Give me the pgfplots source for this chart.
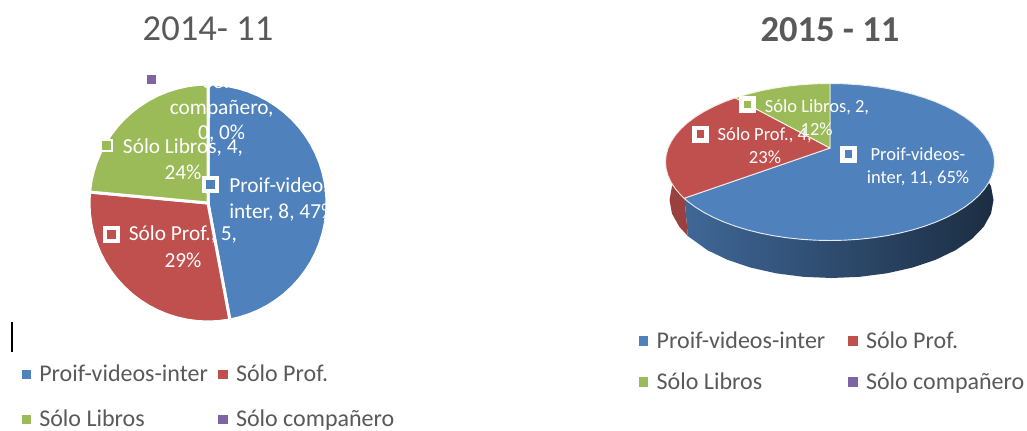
\documentclass[border=0pt]{standalone}
\usepackage{pgfplots}
\pgfplotsset{compat=1.18}
\usepackage{pgfplotstable}
\usepackage{fontspec}
\setmainfont{Carlito}
\definecolor{cb}{HTML}{4F81BD}
\definecolor{cr}{HTML}{C0504D}
\definecolor{cg}{HTML}{9BBB59}
\definecolor{cp}{HTML}{8064A2}
\definecolor{tx}{HTML}{595959}
% wedges: a = angle clockwise from top, r = 0 apex / 1 rim
% 2014-11: values 8, 5, 4, 0 (47%, 29%, 24%, 0%)
\pgfplotstableread{
a r
0 0
0 1
5 1
10 1
15 1
20 1
25 1
30 1
35 1
40 1
45 1
50 1
55 1
60 1
65 1
70 1
75 1
80 1
85 1
90 1
95 1
100 1
105 1
110 1
115 1
120 1
125 1
130 1
135 1
140 1
145 1
150 1
155 1
160 1
165 1
169.4 1
}\LA
\pgfplotstableread{
a r
169.4 0
169.4 1
175 1
180 1
185 1
190 1
195 1
200 1
205 1
210 1
215 1
220 1
225 1
230 1
235 1
240 1
245 1
250 1
255 1
260 1
265 1
270 1
275.3 1
}\LB
\pgfplotstableread{
a r
275.3 0
275.3 1
280 1
285 1
290 1
295 1
300 1
305 1
310 1
315 1
320 1
325 1
330 1
335 1
340 1
345 1
350 1
355 1
360 1
}\LC
% 2015-11: values 11, 4, 2, 0 (65%, 23%, 12%, 0%)
\pgfplotstableread{
a r
0 0
0 1
5 1
10 1
15 1
20 1
25 1
30 1
35 1
40 1
45 1
50 1
55 1
60 1
65 1
70 1
75 1
80 1
85 1
90 1
95 1
100 1
105 1
110 1
115 1
120 1
125 1
130 1
135 1
140 1
145 1
150 1
155 1
160 1
165 1
170 1
175 1
180 1
185 1
190 1
195 1
200 1
205 1
210 1
215 1
220 1
225 1
230 1
235 1
240 1
242.5 1
}\RA
\pgfplotstableread{
a r
242.5 0
242.5 1
245 1
250 1
255 1
260 1
265 1
270 1
275 1
280 1
285 1
290 1
295 1
300 1
305 1
310 1
315 1
320 1
324.8 1
}\RB
\pgfplotstableread{
a r
324.8 0
324.8 1
330 1
335 1
340 1
345 1
350 1
355 1
360 1
}\RC
% side walls: d = 0 top rim, 1 bottom rim
\pgfplotstableread{
a d
70 0
80 0
90 0
100 0
110 0
120 0
130 0
140 0
150 0
160 0
170 0
180 0
190 0
200 0
210 0
220 0
230 0
242.5 0
242.5 1
230 1
220 1
210 1
200 1
190 1
180 1
170 1
160 1
150 1
140 1
130 1
120 1
110 1
100 1
90 1
80 1
70 1
}\RSA
\pgfplotstableread{
a d
242.5 0
250 0
260 0
270 0
280 0
290 0
290 1
280 1
270 1
260 1
250 1
242.5 1
}\RSB
\newcommand{\LP}[2]{\addplot[fill=#1,draw=white,line width=2.25pt,line join=round] table[x expr={208+119*\thisrow{r}*sin(\thisrow{a})},y expr={203-119*\thisrow{r}*cos(\thisrow{a})}] {#2} -- cycle;}
\newcommand{\RP}[2]{\addplot[fill=#1,draw=white!85!#1,line width=0.7pt,line join=round] table[x expr={830+164.5*\thisrow{r}*sin(\thisrow{a})},y expr={148+\thisrow{r}*(14-78.5*cos(\thisrow{a}))}] {#2} -- cycle;}
\newcommand{\mk}[5]{% color, outer half, inner half, x, y
\addplot[only marks,mark=square*,mark size=#2pt,mark options={fill=white,draw=white,line width=0pt,rounded corners=1pt}] coordinates {(#4,#5)};
\addplot[only marks,mark=square*,mark size=#3pt,mark options={fill=#1,draw=#1,line width=0pt}] coordinates {(#4,#5)};}
\newcommand{\lgk}[3]{\addplot[only marks,mark=square*,mark size=3.2pt,mark options={fill=#1,draw=#1,line width=0pt}] coordinates {(#2,#3)};}
\begin{document}
\begin{tikzpicture}
\path[use as bounding box] (0,0) rectangle (770.25pt,322.5pt);
\begin{axis}[
  at={(0,0)},anchor=south west,
  width=770.25pt,height=322.5pt,scale only axis,
  xmin=0,xmax=1027,ymin=0,ymax=430,y dir=reverse,
  axis lines=none,clip=false,
  nodes={inner sep=0pt,outer sep=0pt}]
% 2014-11 pie
\LP{cb}{\LA}
\LP{cr}{\LB}
\LP{cg}{\LC}
% 2015-11 side walls
\addplot[draw=none,left color=cb!80!black,middle color=cb!50!black,right color=cb!35!black] table[x expr={830+1.5*\thisrow{d}+(164-2*\thisrow{d})*sin(\thisrow{a})},y expr={162+38*\thisrow{d}-78*cos(\thisrow{a})}] {\RSA} -- cycle;
\addplot[fill=cr!80!black,draw=none] table[x expr={830+1.5*\thisrow{d}+(164-2*\thisrow{d})*sin(\thisrow{a})},y expr={162+38*\thisrow{d}-78*cos(\thisrow{a})}] {\RSB} -- cycle;
% 2015-11 top
\RP{cb}{\RA}
\RP{cr}{\RB}
\RP{cg}{\RC}
% cursor bar
\addplot[black,line width=1.5pt] coordinates {(11.7,321.7) (11.7,351.7)};
% data-label keys
\mk{cb}{6}{3}{210.7}{184.3}
\mk{cr}{6}{3}{111}{234}
\mk{cg}{4.7}{3}{106.7}{145.3}
\mk{cp}{4}{3}{151.7}{79.3}
\mk{cb}{6}{2.4}{848.7}{154}
\mk{cr}{6}{2.4}{700.7}{134}
\mk{cg}{6}{2.4}{747.7}{104.7}
% legend keys
\lgk{cb}{26.3}{374.3}
\lgk{cr}{223}{374.3}
\lgk{cg}{26.3}{419.3}
\lgk{cp}{223}{419.3}
\lgk{cb}{643.3}{341}
\lgk{cr}{853}{341}
\lgk{cg}{643.3}{382}
\lgk{cp}{853}{382}
% titles
\node[anchor=base,text=tx,font=\fontsize{27.4}{30}\selectfont] at (axis cs:208,40) {2014- 11};
\node[anchor=base,text=tx,font=\fontsize{27.4}{30}\selectfont\bfseries] at (axis cs:830,41) {2015 - 11};
% left labels
\begin{scope}[every node/.append style={anchor=base,text=white,font=\fontsize{16}{18}\selectfont}]
\node at (axis cs:221.7,88) {Sólo};
\node at (axis cs:221.7,114) {compañero,};
\node at (axis cs:221.7,139.3) {0, 0\%};
\node at (axis cs:183,153.3) {Sólo Libros, 4,};
\node at (axis cs:183,179) {24\%};
\node[anchor=base west] at (axis cs:229.3,192.3) {Proif-videos-};
\node[anchor=base west] at (axis cs:229.3,218.3) {inter, 8, 47\%};
\node at (axis cs:183,240.7) {Sólo Prof., 5,};
\node at (axis cs:183,267.7) {29\%};
\end{scope}
% right labels
\begin{scope}[every node/.append style={anchor=base,text=white,font=\fontsize{13.9}{16}\selectfont}]
\node at (axis cs:918,160.7) {Proif-videos-};
\node at (axis cs:918,183.3) {inter, 11, 65\%};
\node at (axis cs:764.7,140) {Sólo Prof., 4,};
\node at (axis cs:765,163.3) {23\%};
\node at (axis cs:817,112.3) {Sólo Libros, 2,};
\node at (axis cs:816.7,135) {12\%};
\end{scope}
% legend text
\begin{scope}[every node/.append style={anchor=base west,text=tx,font=\fontsize{18}{20}\selectfont}]
\node at (axis cs:39.3,381) {Proif-videos-inter};
\node at (axis cs:236,381) {Sólo Prof.};
\node at (axis cs:39.3,426.7) {Sólo Libros};
\node at (axis cs:236,426.7) {Sólo compañero};
\node at (axis cs:656.7,348.3) {Proif-videos-inter};
\node at (axis cs:866,348.3) {Sólo Prof.};
\node at (axis cs:656.7,389.3) {Sólo Libros};
\node at (axis cs:866,389.3) {Sólo compañero};
\end{scope}
\end{axis}
\end{tikzpicture}
\end{document}
